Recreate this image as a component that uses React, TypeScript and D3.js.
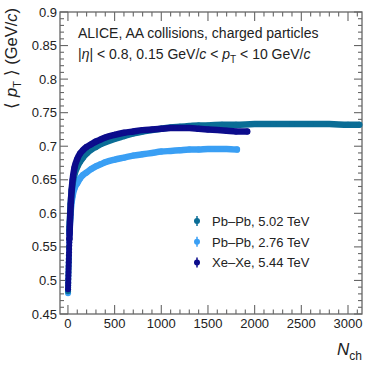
import React, { useEffect, useRef } from 'react';
import * as d3 from 'd3';

// [Nch, <pT>]
const pbpb502: [number, number][] = [
  [1, 0.484], [2, 0.49], [3, 0.496], [4, 0.502], [5, 0.508], [6, 0.514], [7, 0.52], [8, 0.526],
  [9, 0.532], [10, 0.538], [12, 0.55], [14, 0.561], [17, 0.575], [20, 0.587], [25, 0.603],
  [30, 0.615], [40, 0.632], [50, 0.644], [70, 0.658], [100, 0.669], [130, 0.677], [160, 0.683],
  [200, 0.689], [250, 0.695], [300, 0.699], [350, 0.703], [400, 0.706], [500, 0.711], [600, 0.715],
  [700, 0.719], [800, 0.722], [900, 0.724], [1000, 0.726], [1100, 0.728], [1200, 0.729],
  [1300, 0.73], [1400, 0.731], [1500, 0.731], [1650, 0.732], [1800, 0.732], [2000, 0.733],
  [2200, 0.733], [2400, 0.733], [2600, 0.733], [2800, 0.733], [3000, 0.732], [3120, 0.732],
];

const pbpb276: [number, number][] = [
  [1, 0.481], [2, 0.487], [3, 0.493], [4, 0.499], [5, 0.505], [6, 0.511], [7, 0.517], [8, 0.523],
  [9, 0.529], [10, 0.535], [12, 0.546], [14, 0.556], [17, 0.569], [20, 0.58], [25, 0.593],
  [30, 0.603], [40, 0.617], [50, 0.626], [70, 0.637], [100, 0.645], [130, 0.652], [160, 0.657],
  [200, 0.661], [250, 0.666], [300, 0.67], [350, 0.673], [400, 0.676], [500, 0.68], [600, 0.683],
  [700, 0.686], [800, 0.688], [900, 0.69], [1000, 0.692], [1100, 0.693], [1200, 0.694],
  [1300, 0.695], [1400, 0.695], [1500, 0.696], [1600, 0.696], [1700, 0.696], [1810, 0.695],
];

const xexe544: [number, number][] = [
  [1, 0.487], [2, 0.492], [3, 0.497], [4, 0.502], [5, 0.507], [6, 0.512], [7, 0.517], [8, 0.522],
  [9, 0.527], [10, 0.532], [11, 0.537], [12, 0.542], [13, 0.547], [14, 0.552], [15, 0.557],
  [16, 0.562], [18, 0.571], [20, 0.58], [25, 0.598], [30, 0.613], [40, 0.635], [50, 0.65],
  [70, 0.668], [100, 0.681], [130, 0.689], [160, 0.694], [200, 0.699], [250, 0.703], [300, 0.707],
  [350, 0.71], [400, 0.713], [500, 0.717], [600, 0.72], [700, 0.722], [800, 0.724], [900, 0.725],
  [1000, 0.726], [1100, 0.727], [1200, 0.727], [1300, 0.727], [1400, 0.726], [1500, 0.725],
  [1600, 0.724], [1700, 0.723], [1800, 0.722], [1920, 0.722],
];

const seriesNames = ['Pb\u2013Pb, 5.02 TeV', 'Pb\u2013Pb, 2.76 TeV', 'Xe\u2013Xe, 5.44 TeV'];
const seriesColors = ['#0a6d96', '#3a9ff4', '#0c0c8c'];
const xTicks = [0, 500, 1000, 1500, 2000, 2500, 3000];
const yTicks = [0.45, 0.5, 0.55, 0.6, 0.65, 0.7, 0.75, 0.8, 0.85, 0.9];

const App = () => {
  const ref = useRef<SVGSVGElement>(null);

  useEffect(() => {
    const W = 374, H = 374;
    const left = 60, right = 362, top = 12, bottom = 314;
    const font = '"Liberation Sans", Arial, sans-serif';
    const axisColor = '#666';

    const svg = d3.select(ref.current);
    svg.selectAll('*').remove();
    svg.attr('width', W).attr('height', H).style('font-family', font);

    const x = d3.scaleLinear().domain([-85, 3150]).range([left, right]);
    const y = d3.scaleLinear().domain([0.45, 0.9]).range([bottom, top]);

    const g = svg.append('g');

    // frame
    g.append('rect')
      .attr('x', left).attr('y', top)
      .attr('width', right - left).attr('height', bottom - top)
      .attr('fill', 'none').attr('stroke', axisColor).attr('stroke-width', 1.3);

    // x ticks (bottom + top)
    d3.range(0, 3151, 100).forEach(v => {
      const len = v % 500 === 0 ? 9 : 4.5;
      const px = x(v);
      g.append('line').attr('x1', px).attr('x2', px).attr('y1', bottom).attr('y2', bottom - len)
        .attr('stroke', axisColor).attr('stroke-width', 1.1);
      g.append('line').attr('x1', px).attr('x2', px).attr('y1', top).attr('y2', top + len)
        .attr('stroke', axisColor).attr('stroke-width', 1.1);
    });

    // y ticks (left + right)
    d3.range(45, 91, 1).forEach(k => {
      const len = k % 5 === 0 ? 8 : 4;
      const py = y(k / 100);
      g.append('line').attr('x1', left).attr('x2', left + len).attr('y1', py).attr('y2', py)
        .attr('stroke', axisColor).attr('stroke-width', 1.1);
      g.append('line').attr('x1', right).attr('x2', right - len).attr('y1', py).attr('y2', py)
        .attr('stroke', axisColor).attr('stroke-width', 1.1);
    });

    g.selectAll('.xl').data(xTicks).join('text')
      .attr('x', d => x(d)).attr('y', bottom + 14)
      .attr('text-anchor', 'middle').attr('font-size', 13).attr('fill', '#222')
      .text(d => d);

    g.selectAll('.yl').data(yTicks).join('text')
      .attr('x', left - 3).attr('y', d => y(d) + 4.5)
      .attr('text-anchor', 'end').attr('font-size', 13).attr('fill', '#222')
      .text(d => String(d));

    // curves
    const line = d3.line<[number, number]>()
      .x(d => x(d[0])).y(d => y(d[1]))
      .curve(d3.curveMonotoneX);

    const draw = (data: [number, number][], color: string) => {
      g.append('path')
        .datum(data.filter(d => d[0] >= 16))
        .attr('d', line)
        .attr('fill', 'none').attr('stroke', color)
        .attr('stroke-width', 6.5).attr('stroke-linecap', 'round');
      g.append('g').selectAll('circle').data(data).join('circle')
        .attr('cx', d => x(d[0])).attr('cy', d => y(d[1])).attr('r', 3)
        .attr('fill', color);
    };
    draw(pbpb276, seriesColors[1]);
    draw(pbpb502, seriesColors[0]);
    draw(xexe544, seriesColors[2]);

    // legend
    seriesNames.forEach((name, i) => {
      const cy = 221 + i * 20.7;
      g.append('line').attr('x1', 197).attr('x2', 197).attr('y1', cy - 5).attr('y2', cy + 5)
        .attr('stroke', seriesColors[i]).attr('stroke-width', 1.5);
      g.append('circle').attr('cx', 197).attr('cy', cy).attr('r', 3).attr('fill', seriesColors[i]);
      g.append('text').attr('x', 212).attr('y', cy + 5)
        .attr('font-size', 13).attr('fill', '#222').text(name);
    });

    // header text
    g.append('text').attr('x', 78).attr('y', 38).attr('font-size', 14).attr('fill', '#222')
      .text('ALICE, AA collisions, charged particles');

    const t2 = g.append('text').attr('x', 78).attr('y', 59).attr('font-size', 14).attr('fill', '#222');
    t2.append('tspan').text('|');
    t2.append('tspan').attr('font-style', 'italic').text('\u03b7');
    t2.append('tspan').text('| < 0.8, 0.15 GeV/');
    t2.append('tspan').attr('font-style', 'italic').text('c');
    t2.append('tspan').text(' < ');
    t2.append('tspan').attr('font-style', 'italic').text('p');
    t2.append('tspan').attr('font-size', 10).attr('dy', 4).text('T');
    t2.append('tspan').attr('dy', -4).text(' < 10 GeV/');
    t2.append('tspan').attr('font-style', 'italic').text('c');

    // y title
    const yt = g.append('text')
      .attr('transform', 'translate(17,8) rotate(-90)')
      .attr('text-anchor', 'end').attr('font-size', 16.5).attr('fill', '#222');
    yt.append('tspan').text('\u27e8 ');
    yt.append('tspan').attr('font-style', 'italic').text('p');
    yt.append('tspan').attr('font-size', 11).attr('dy', 4).text('T');
    yt.append('tspan').attr('dy', -4).text(' \u27e9 (GeV/');
    yt.append('tspan').attr('font-style', 'italic').text('c');
    yt.append('tspan').text(')');

    // x title
    const xt = g.append('text').attr('x', 362).attr('y', 355)
      .attr('text-anchor', 'end').attr('font-size', 17).attr('fill', '#222');
    xt.append('tspan').attr('font-style', 'italic').text('N');
    xt.append('tspan').attr('font-size', 12).attr('dy', 5).text('ch');
  }, []);

  return (
    <svg ref={ref} style={{ position: 'absolute', left: 0, top: 0, background: '#fff' }} />
  );
};

export default App;
